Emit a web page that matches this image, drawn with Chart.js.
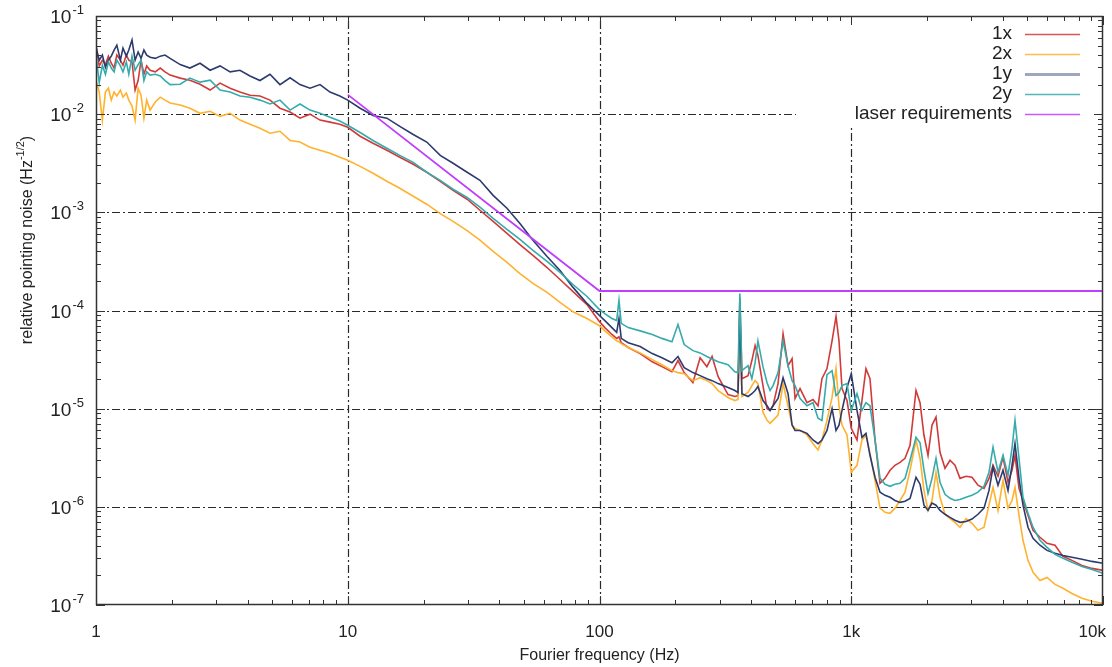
<!DOCTYPE html>
<html>
<head>
<meta charset="utf-8">
<title>Relative pointing noise</title>
<script src="https://cdn.jsdelivr.net/npm/chart.js@4.4.0/dist/chart.umd.min.js"></script>
<style>
  html, body { margin: 0; padding: 0; background: #fff; }
  canvas { display: block; }
</style>
</head>
<body>
<canvas id="myChart" width="1112" height="667"></canvas>
<script>
// Fourier frequency (Hz) of each sample
const freq = [
  1.00, 1.03, 1.06, 1.09, 1.12, 1.15, 1.18, 1.21, 1.25, 1.28, 1.32, 1.35, 1.39, 1.43, 1.47, 1.51, 1.55, 1.59, 1.64, 1.72, 1.80, 1.88, 1.97,
  2.16, 2.36, 2.59, 2.84, 3.11, 3.41, 3.73, 4.09, 4.48, 4.91, 5.38, 5.90, 6.46, 7.08, 7.76, 8.50, 9.30, 10.0,
  11.2, 12.6, 14.3, 16.1, 18.2, 20.6, 23.3, 26.2, 29.8, 33.5, 37.8, 42.9, 48.3, 54.4, 61.9, 69.7, 78.5, 89.2, 100,
  105, 112, 117, 119.5, 122, 130, 145, 162, 177, 194, 205, 217, 235, 251, 267, 280, 296, 324, 345, 355,
  361, 368, 389, 403, 415, 426, 446, 463, 476, 489, 512, 536, 561, 582, 598, 626, 667, 705, 738, 765,
  801, 839, 870, 894, 919, 962, 1000,
  1054, 1103, 1144, 1187, 1243, 1301, 1362, 1426, 1492, 1562, 1635, 1712, 1808, 1876, 1945, 2018, 2093, 2171, 2252, 2357,
  2468, 2583, 2704, 2856, 3017, 3187, 3368, 3525, 3657, 3828, 4007, 4195, 4351, 4471, 4638, 4811, 5036, 5273, 5620, 5993,
  6447, 6937, 7530, 8251, 9042, 10000
];

// relative pointing noise (Hz^-1/2)
const noise1x = [
  5.05e-2, 3.1e-2, 3.55e-2, 3.2e-2, 3.9e-2, 3.3e-2, 2.95e-2, 4.0e-2, 3.55e-2, 3.15e-2, 4.0e-2, 3.55e-2, 3.4e-2, 1.76e-2, 2.2e-2, 3.55e-2, 2.55e-2, 3.1e-2, 2.8e-2, 2.7e-2, 2.95e-2, 2.7e-2, 2.5e-2,
  2.33e-2, 2.22e-2, 2.02e-2, 1.76e-2, 2.07e-2, 1.84e-2, 1.68e-2, 1.56e-2, 1.53e-2, 1.39e-2, 1.15e-2, 1.05e-2, 9.1e-3, 1.0e-2, 8.7e-3, 8.3e-3, 7.9e-3, 7.35e-3,
  5.96e-3, 5.05e-3, 4.29e-3, 3.64e-3, 3.09e-3, 2.56e-3, 2.07e-3, 1.68e-3, 1.36e-3, 1.05e-3, 8.1e-4, 6.1e-4, 4.7e-4, 3.64e-4, 2.74e-4, 2.07e-4, 1.56e-4, 1.15e-4, 7.7e-5,
  6.7e-5, 5.7e-5, 5.2e-5, 5.4e-5, 4.7e-5, 4.2e-5, 3.64e-5, 3.0e-5, 2.68e-5, 2.38e-5, 3.09e-5, 2.33e-5, 1.84e-5, 3.3e-5, 2.68e-5, 3.4e-5, 2.12e-5, 1.39e-5, 1.33e-5, 1.36e-5,
  1.33e-4, 2.02e-5, 2.17e-5, 3.09e-5, 4.4e-5, 3.47e-5, 1.72e-5, 1.0e-5, 9.6e-6, 1.07e-5, 1.8e-5, 5.8e-5, 2.74e-5, 3.23e-5, 1.27e-5, 1.6e-5, 1.15e-5, 1.24e-5, 1.07e-5, 2.02e-5,
  2.56e-5, 4.9e-5, 8.7e-5, 4.9e-5, 1.6e-5, 1.21e-5, 6.3e-6,
  4.8e-6, 1.21e-5, 2.56e-5, 2.02e-5, 4.8e-6, 1.74e-6, 1.95e-6, 2.36e-6, 2.65e-6, 2.84e-6, 3.12e-6, 4.24e-6, 1.53e-5, 1.15e-5, 5.36e-6, 3.35e-6, 6.8e-6, 8.2e-6, 3.6e-6, 2.47e-6,
  2.98e-6, 2.65e-6, 1.95e-6, 2.05e-6, 2.0e-6, 1.66e-6, 1.54e-6, 1.95e-6, 2.65e-6, 2.05e-6, 3.2e-6, 1.78e-6, 2.36e-6, 3.35e-6, 1.54e-6, 1.16e-6, 8.2e-7, 5.76e-7, 4.9e-7, 4.25e-7,
  4.06e-7, 3.13e-7, 2.85e-7, 2.53e-7, 2.36e-7, 2.25e-7
];

const noise2x = [
  2.2e-2, 1.68e-2, 8.7e-3, 1.68e-2, 1.84e-2, 1.39e-2, 1.68e-2, 1.53e-2, 1.76e-2, 1.49e-2, 1.64e-2, 1.39e-2, 1.21e-2, 8.7e-3, 1.84e-2, 1.56e-2, 9.1e-3, 1.39e-2, 1.1e-2, 1.33e-2, 1.49e-2, 1.39e-2, 1.3e-2,
  1.24e-2, 1.15e-2, 1.02e-2, 1.07e-2, 9.5e-3, 1.02e-2, 8.7e-3, 7.9e-3, 7.2e-3, 6.4e-3, 6.7e-3, 5.4e-3, 5.2e-3, 4.6e-3, 4.3e-3, 4.0e-3, 3.64e-3, 3.39e-3,
  2.94e-3, 2.5e-3, 2.07e-3, 1.76e-3, 1.46e-3, 1.21e-3, 9.7e-4, 8.1e-4, 6.5e-4, 5.2e-4, 4.0e-4, 3.09e-4, 2.38e-4, 1.89e-4, 1.53e-4, 1.21e-4, 9.7e-5, 8.3e-5, 7.0e-5,
  6.2e-5, 5.4e-5, 4.9e-5, 4.8e-5, 4.6e-5, 4.2e-5, 3.7e-5, 3.16e-5, 2.8e-5, 2.44e-5, 2.33e-5, 2.27e-5, 1.93e-5, 2.07e-5, 1.93e-5, 1.8e-5, 1.53e-5, 1.3e-5, 1.21e-5, 1.24e-5,
  7.0e-5, 1.33e-5, 1.46e-5, 1.72e-5, 1.93e-5, 1.8e-5, 9.2e-6, 7.6e-6, 7.1e-6, 7.6e-6, 8.6e-6, 1.8e-5, 1.07e-5, 6.8e-6, 6.3e-6, 6.0e-6, 5.4e-6, 4.4e-6, 3.8e-6, 4.8e-6,
  7.6e-6, 1.3e-5, 2.56e-5, 1.07e-5, 6.8e-6, 5.4e-6, 2.25e-6,
  2.65e-6, 4.8e-6, 5.36e-6, 3.5e-6, 1.86e-6, 9.7e-7, 8.8e-7, 8.6e-7, 9.7e-7, 1.16e-6, 1.41e-6, 2.36e-6, 4.8e-6, 3.12e-6, 1.47e-6, 9.2e-7, 1.16e-6, 2.25e-6, 1.25e-6, 8.4e-7,
  7.6e-7, 6.95e-7, 6.2e-7, 7.6e-7, 6.8e-7, 5.76e-7, 6.2e-7, 1.04e-6, 1.58e-6, 9.2e-7, 1.86e-6, 9.7e-7, 1.16e-6, 1.58e-6, 8.2e-7, 4.56e-7, 2.85e-7, 2.15e-7, 1.78e-7, 1.91e-7,
  1.62e-7, 1.48e-7, 1.31e-7, 1.17e-7, 1.09e-7, 1.04e-7
];

const noise1y = [
  4.8e-2, 3.55e-2, 4.0e-2, 3.0e-2, 3.55e-2, 3.9e-2, 4.5e-2, 5.05e-2, 3.55e-2, 4.7e-2, 3.9e-2, 4.5e-2, 5.7e-2, 3.55e-2, 4.3e-2, 3.7e-2, 4.5e-2, 4.0e-2, 3.8e-2, 3.7e-2, 3.9e-2, 4.0e-2, 3.7e-2,
  3.2e-2, 2.95e-2, 3.3e-2, 2.8e-2, 3.1e-2, 2.7e-2, 2.8e-2, 2.45e-2, 2.2e-2, 2.55e-2, 2.0e-2, 2.35e-2, 2.0e-2, 1.84e-2, 2.0e-2, 1.68e-2, 1.53e-2, 1.39e-2,
  1.15e-2, 9.7e-3, 9.1e-3, 7.5e-3, 6.2e-3, 5.2e-3, 3.8e-3, 3.16e-3, 2.56e-3, 2.12e-3, 1.49e-3, 1.1e-3, 7.7e-4, 5.2e-4, 3.55e-4, 2.56e-4, 1.72e-4, 1.18e-4, 8.9e-5,
  7.9e-5, 6.7e-5, 6.0e-5, 8.3e-5, 5.2e-5, 4.7e-5, 4.3e-5, 3.64e-5, 3.3e-5, 2.94e-5, 3.4e-5, 2.62e-5, 2.33e-5, 2.17e-5, 2.02e-5, 1.93e-5, 1.8e-5, 1.64e-5, 1.53e-5, 1.46e-5,
  1.0e-4, 1.42e-5, 1.33e-5, 1.42e-5, 1.53e-5, 1.68e-5, 1.21e-5, 1.07e-5, 9.6e-6, 1.07e-5, 1.27e-5, 2.07e-5, 1.42e-5, 6.8e-6, 6.0e-6, 6.0e-6, 5.6e-6, 4.8e-6, 4.4e-6, 4.8e-6,
  6.0e-6, 1.0e-5, 6.0e-6, 6.8e-6, 9.6e-6, 1.64e-5, 2.27e-5,
  9.6e-6, 5.1e-6, 5.6e-6, 3.35e-6, 2.0e-6, 1.41e-6, 1.31e-6, 1.25e-6, 1.16e-6, 1.11e-6, 1.14e-6, 1.22e-6, 2.0e-6, 1.7e-6, 1.04e-6, 9.2e-7, 1.09e-6, 1.04e-6, 9.2e-7, 8.4e-7,
  7.8e-7, 7.3e-7, 6.95e-7, 7.1e-7, 7.5e-7, 8.4e-7, 9.7e-7, 1.47e-6, 2.53e-6, 1.66e-6, 2.36e-6, 1.47e-6, 2.65e-6, 4.4e-6, 1.95e-6, 1.04e-6, 6.2e-7, 4.77e-7, 4.06e-7, 3.6e-7,
  3.36e-7, 3.2e-7, 3.06e-7, 2.92e-7, 2.78e-7, 2.66e-7
];

const noise2y = [
  4.0e-2, 2.1e-2, 3.15e-2, 2.55e-2, 3.4e-2, 2.95e-2, 2.7e-2, 3.55e-2, 3.1e-2, 2.7e-2, 3.4e-2, 2.55e-2, 3.9e-2, 2.8e-2, 3.2e-2, 3.55e-2, 2.2e-2, 2.7e-2, 2.5e-2, 2.55e-2, 2.45e-2, 2.2e-2, 2.0e-2,
  2.02e-2, 2.33e-2, 2.12e-2, 2.22e-2, 1.76e-2, 1.68e-2, 1.53e-2, 1.49e-2, 1.39e-2, 1.27e-2, 1.39e-2, 1.1e-2, 1.27e-2, 1.1e-2, 1.02e-2, 9.3e-3, 8.5e-3, 7.7e-3,
  6.5e-3, 5.4e-3, 4.5e-3, 3.8e-3, 3.23e-3, 2.56e-3, 2.12e-3, 1.72e-3, 1.42e-3, 1.13e-3, 8.7e-4, 6.7e-4, 5.3e-4, 4.1e-4, 3.16e-4, 2.44e-4, 1.84e-4, 1.39e-4, 1.02e-4,
  9.3e-5, 8.3e-5, 7.9e-5, 1.27e-4, 7.4e-5, 6.7e-5, 6.2e-5, 5.7e-5, 5.2e-5, 4.8e-5, 7.2e-5, 4.5e-5, 3.9e-5, 3.7e-5, 3.4e-5, 3.2e-5, 3.0e-5, 2.8e-5, 2.38e-5, 2.33e-5,
  1.49e-4, 2.44e-5, 2.74e-5, 2.02e-5, 2.94e-5, 4.9e-5, 2.68e-5, 1.84e-5, 1.53e-5, 1.72e-5, 2.33e-5, 4.9e-5, 2.74e-5, 1.93e-5, 1.72e-5, 1.27e-5, 1.07e-5, 1.15e-5, 8.0e-6, 7.6e-6,
  2.22e-5, 2.44e-5, 1.36e-5, 1.46e-5, 1.72e-5, 1.8e-5, 9.6e-6,
  1.42e-5, 9.6e-6, 1.15e-5, 1.07e-5, 4.8e-6, 1.95e-6, 1.7e-6, 1.62e-6, 1.7e-6, 1.74e-6, 1.95e-6, 2.98e-6, 5.1e-6, 4.5e-6, 2.36e-6, 1.37e-6, 1.95e-6, 3.12e-6, 1.78e-6, 1.34e-6,
  1.22e-6, 1.16e-6, 1.19e-6, 1.25e-6, 1.31e-6, 1.41e-6, 1.62e-6, 2.25e-6, 4.05e-6, 2.25e-6, 3.35e-6, 2.1e-6, 3.95e-6, 7.6e-6, 3.12e-6, 1.25e-6, 8.6e-7, 6.2e-7, 4.56e-7, 3.87e-7,
  3.28e-7, 2.99e-7, 2.72e-7, 2.47e-7, 2.3e-7, 2.1e-7
];

// laser requirement: f^-2 down to 100 Hz, flat above
const laserFreq = [10, 100, 10000];
const laserReq = [1.58e-2, 1.58e-4, 1.58e-4];

const xMajor = [1, 10, 100, 1000, 10000];
const xLabels = ['1', '10', '100', '1k', '10k'];
const yMajor = [1e-1, 1e-2, 1e-3, 1e-4, 1e-5, 1e-6, 1e-7];
const yExps = ['-1', '-2', '-3', '-4', '-5', '-6', '-7'];

const xTitle = 'Fourier frequency (Hz)';
const yTitle = ['relative pointing noise (Hz', '-1/2', ')'];

const FONT = '"Liberation Sans", Arial, Helvetica, sans-serif';
const INK = '#222';

function pts(xs, ys) {
  return xs.map((f, i) => ({ x: f, y: ys[i] }));
}

const series = [
  { label: '1x', data: pts(freq, noise1x), color: '#d23a3a', width: 1.6, order: 4 },
  { label: '2x', data: pts(freq, noise2x), color: '#ffb22e', width: 1.6, order: 3 },
  { label: '1y', data: pts(freq, noise1y), color: '#2c3a6e', width: 1.6, order: 2 },
  { label: '2y', data: pts(freq, noise2y), color: '#36abab', width: 1.6, order: 1 },
  { label: 'laser requirements', data: pts(laserFreq, laserReq), color: '#c03cff', width: 1.8, order: 0 }
];

function line(ctx, x1, y1, x2, y2) {
  ctx.beginPath();
  ctx.moveTo(x1, y1);
  ctx.lineTo(x2, y2);
  ctx.stroke();
}

// 2..9 x 10^k between two decades, for the small tick marks
function minorTicks(lo, hi) {
  const out = [];
  for (let d = lo; d < hi; d *= 10) {
    for (let m = 2; m <= 9; m++) out.push(d * m);
  }
  return out;
}

const gnuplotLook = {
  id: 'gnuplotLook',
  beforeDatasetsDraw(chart) {
    const { ctx, chartArea: a, scales: { x, y } } = chart;
    ctx.save();
    ctx.strokeStyle = '#2a2a2a';
    ctx.lineWidth = 1.2;
    ctx.setLineDash([8, 3, 2, 3]);
    xMajor.slice(1, -1).forEach(v => {
      const px = Math.round(x.getPixelForValue(v)) + 0.5;
      line(ctx, px, a.bottom, px, a.top);
    });
    yMajor.slice(1, -1).forEach(v => {
      const py = Math.round(y.getPixelForValue(v)) + 0.5;
      line(ctx, a.left, py, a.right, py);
    });
    ctx.setLineDash([]);
    // key sits on its own white patch
    ctx.fillStyle = '#fff';
    ctx.fillRect(a.right - 307, a.top + 1, 306, 110);
    ctx.restore();
  },
  afterDatasetsDraw(chart) {
    const { ctx, chartArea: a, scales: { x, y } } = chart;
    ctx.save();

    // frame
    ctx.strokeStyle = '#333';
    ctx.lineWidth = 1.5;
    ctx.strokeRect(a.left + 0.5, a.top + 0.5, a.right - a.left - 1, a.bottom - a.top - 1);

    // ticks on all four sides, pointing in
    ctx.lineWidth = 1;
    const tickX = (v, len) => {
      const px = Math.round(x.getPixelForValue(v)) + 0.5;
      line(ctx, px, a.bottom, px, a.bottom - len);
      line(ctx, px, a.top, px, a.top + len);
    };
    const tickY = (v, len) => {
      const py = Math.round(y.getPixelForValue(v)) + 0.5;
      line(ctx, a.left, py, a.left + len, py);
      line(ctx, a.right, py, a.right - len, py);
    };
    xMajor.forEach(v => tickX(v, 9));
    minorTicks(1, 10000).forEach(v => tickX(v, 5));
    yMajor.forEach(v => tickY(v, 9));
    minorTicks(1e-7, 1e-1).forEach(v => tickY(v, 5));

    // x tick labels
    ctx.fillStyle = INK;
    ctx.font = '17px ' + FONT;
    ctx.textAlign = 'center';
    ctx.textBaseline = 'middle';
    xMajor.forEach((v, i) => {
      const w = ctx.measureText(xLabels[i]).width;
      const px = Math.min(x.getPixelForValue(v), chart.width - w / 2 - 6);
      ctx.fillText(xLabels[i], px, a.bottom + 27);
    });
    ctx.font = '16px ' + FONT;
    ctx.fillText(xTitle, (a.left + a.right) / 2, a.bottom + 51);

    // y tick labels as 10 with a raised exponent
    ctx.textAlign = 'left';
    ctx.textBaseline = 'alphabetic';
    yMajor.forEach((v, i) => {
      const py = y.getPixelForValue(v);
      ctx.font = '19px ' + FONT;
      const w1 = ctx.measureText('10').width;
      ctx.font = '13px ' + FONT;
      const w2 = ctx.measureText(yExps[i]).width;
      const x0 = a.left - 13 - w1 - w2;
      ctx.font = '19px ' + FONT;
      ctx.fillText('10', x0, py + 7);
      ctx.font = '13px ' + FONT;
      ctx.fillText(yExps[i], x0 + w1 + 1, py - 2);
    });

    // rotated y title
    ctx.save();
    ctx.translate(28, 240);
    ctx.rotate(-Math.PI / 2);
    const parts = [[yTitle[0], 16, 0], [yTitle[1], 11, -7], [yTitle[2], 16, 0]];
    let total = 0;
    parts.forEach(p => { ctx.font = p[1] + 'px ' + FONT; total += ctx.measureText(p[0]).width; });
    let cx = -total / 2;
    ctx.textBaseline = 'middle';
    parts.forEach(p => {
      ctx.font = p[1] + 'px ' + FONT;
      ctx.fillText(p[0], cx, p[2]);
      cx += ctx.measureText(p[0]).width;
    });
    ctx.restore();

    // key, top right: label then line sample
    ctx.font = '19px ' + FONT;
    ctx.textAlign = 'right';
    ctx.textBaseline = 'middle';
    series.forEach((s, i) => {
      const yy = a.top + 18 + i * 20;
      ctx.fillStyle = INK;
      ctx.fillText(s.label, a.right - 91, yy);
      ctx.strokeStyle = s.color;
      ctx.lineWidth = s.label === '1y' ? 3 : 1.6;
      ctx.globalAlpha = s.label === '1y' ? 0.45 : 0.85;
      line(ctx, a.right - 78, yy + 0.5, a.right - 23, yy + 0.5);
      ctx.globalAlpha = 1;
    });

    ctx.restore();
  }
};

const ctx = document.getElementById('myChart').getContext('2d');
new Chart(ctx, {
  type: 'line',
  data: {
    datasets: series.map(s => ({
      label: s.label,
      data: s.data,
      borderColor: s.color,
      backgroundColor: s.color,
      borderWidth: s.width,
      pointRadius: 0,
      tension: 0,
      fill: false,
      order: s.order
    }))
  },
  options: {
    responsive: false,
    animation: false,
    devicePixelRatio: 1,
    layout: { padding: { left: 96, right: 9, top: 16, bottom: 62 } },
    plugins: { legend: { display: false }, tooltip: { enabled: false } },
    scales: {
      x: { type: 'logarithmic', min: 1, max: 10000, display: false },
      y: { type: 'logarithmic', min: 1e-7, max: 1e-1, display: false }
    }
  },
  plugins: [gnuplotLook]
});
</script>
</body>
</html>
